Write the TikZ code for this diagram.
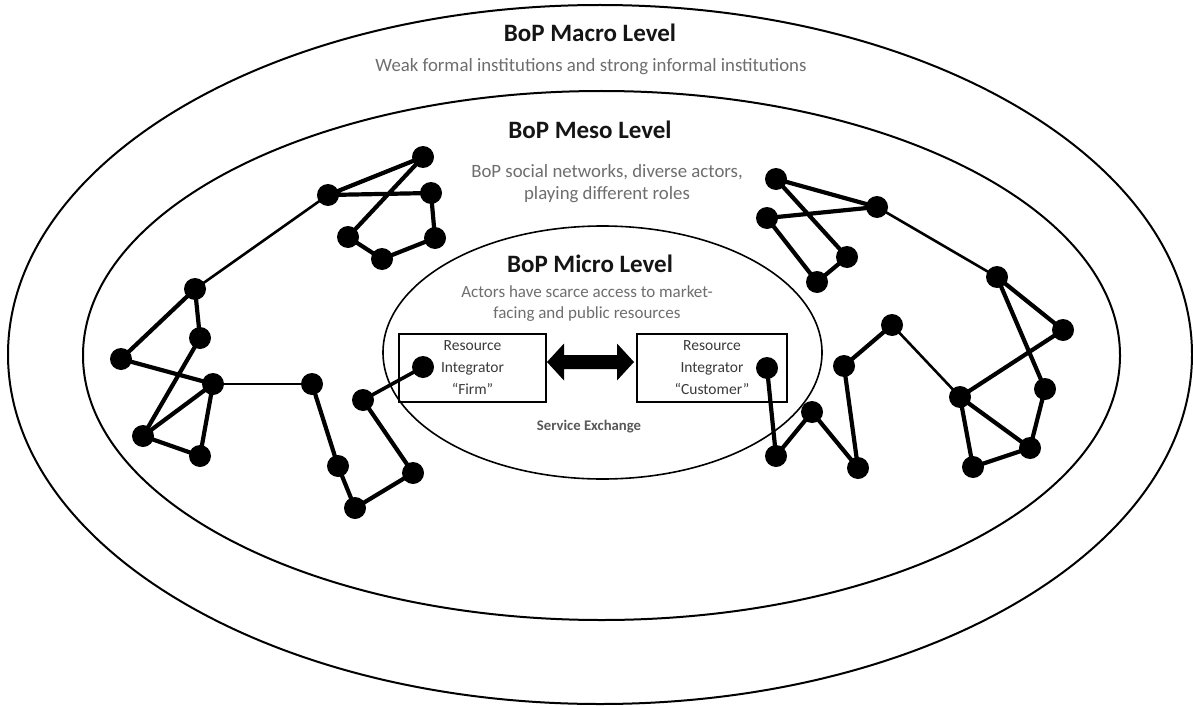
\documentclass[tikz,border=0pt]{standalone}
\usepackage{fontspec}
\setmainfont{Carlito}
\definecolor{titlec}{HTML}{151515}
\definecolor{descc}{HTML}{6E6E6E}
\definecolor{boxtc}{HTML}{3A3A3A}
\pgfdeclarelayer{ringlayer}
\pgfdeclarelayer{edgelayer}
\pgfsetlayers{ringlayer,edgelayer,main}
\begin{document}
\begin{tikzpicture}[x=1pt,y=-1pt,
  ring/.style={draw=black,line width=2pt},
  title/.style={text=titlec,font=\fontsize{25}{30}\selectfont\bfseries,inner sep=0},
  desc/.style={text=descc,font=\fontsize{18.8}{22}\selectfont,align=center,inner sep=0},
  ribox/.style={draw=black,line width=1.4pt,minimum width=147pt,minimum height=68pt,inner sep=0,align=center,text=boxtc,font=\fontsize{15.5}{22}\selectfont},
  dot/.style={circle,fill=black,minimum size=22pt,inner sep=0},
  tie/.style={line width=4.2pt},
  thin/.style={line width=2.6pt}]
\useasboundingbox (0,0) rectangle (1193,706);
\begin{pgfonlayer}{ringlayer}
\fill[white] (0,0) rectangle (1193,706);
% levels
\draw[ring] (600,354.5) ellipse [x radius=592pt, y radius=349.5pt];
\draw[ring] (601.5,355.5) ellipse [x radius=518.5pt, y radius=264.5pt];
\draw[ring,line width=1.6pt] (602.5,352.5) ellipse [x radius=219.5pt, y radius=126.5pt];
\end{pgfonlayer}
% texts
\node[title] (macroT) at (590,33) {BoP Macro Level};
\node[desc] (macroD) at (591,67) {Weak formal institutions and strong informal institutions};
\node[title] (mesoT) at (590,130) {BoP Meso Level};
\node[desc] (mesoD) at (607,184) {BoP social networks, diverse actors,\\playing different roles};
\node[title] (microT) at (590,264) {BoP Micro Level};
\node[desc,font=\fontsize{17}{21}\selectfont] (microD) at (587,303.5) {Actors have scarce access to market-\\facing and public resources};
\node[text=descc!80!black,font=\fontsize{14.7}{17}\selectfont\bfseries,inner sep=0] (service) at (589,427) {Service Exchange};
% boxes
\node[ribox] (firm) at (472.5,368) {Resource\\Integrator\\“Firm”};
\node[ribox,minimum width=150pt] (cust) at (712,368) {Resource\\Integrator\\“Customer”};
% double arrow
\coordinate (tl) at (547,362);
\coordinate (tr) at (634,362);
\fill[black] (tl) -- (564,343.5) -- (564,355) -- (617,355) -- (617,343.5) -- (tr)
  -- (617,380.5) -- (617,369) -- (564,369) -- (564,380.5) -- cycle;
% left network nodes
\node[dot] (A1) at (423,157) {};
\node[dot] (A2) at (328,195) {};
\node[dot] (A3) at (431,193) {};
\node[dot] (A4) at (348,237) {};
\node[dot] (A5) at (435,238) {};
\node[dot] (A6) at (382,259) {};
\node[dot] (B1) at (195,289) {};
\node[dot] (B2) at (200,338) {};
\node[dot] (B3) at (121,359) {};
\node[dot] (B4) at (213,384) {};
\node[dot] (B5) at (143,436) {};
\node[dot] (B6) at (200,456) {};
\node[dot] (C1) at (312,384) {};
\node[dot] (C2) at (338,466) {};
\node[dot] (C3) at (355,508) {};
\node[dot] (C4) at (413,473) {};
\node[dot] (C5) at (363,400) {};
\node[dot] (C6) at (423,367) {};
% right network nodes
\node[dot] (D1) at (776,179) {};
\node[dot] (D2) at (767,218) {};
\node[dot] (D3) at (877,207) {};
\node[dot] (D4) at (847,257) {};
\node[dot] (D5) at (817,282) {};
\node[dot] (E1) at (997,277) {};
\node[dot] (E2) at (1063,330) {};
\node[dot] (E3) at (960,397) {};
\node[dot] (E4) at (1045,389) {};
\node[dot] (E5) at (1030,448) {};
\node[dot] (E6) at (973,467) {};
\node[dot] (F1) at (892,325) {};
\node[dot] (F2) at (844,366) {};
\node[dot] (F3) at (858,468) {};
\node[dot] (F4) at (812,412) {};
\node[dot] (F5) at (776,456) {};
\node[dot] (F6) at (767,368) {};
\begin{pgfonlayer}{edgelayer}
% left edges
\draw[tie] (A1.center) -- (A2.center) -- (A3.center) -- (A5.center) -- (A6.center) -- (A4.center) -- (A1.center);
\draw[thin] (A2.center) -- (B1.center);
\draw[tie] (B1.center) -- (B2.center) -- (B5.center) -- (B6.center) -- (B4.center) -- (B3.center) -- (B1.center);
\draw[tie] (B4.center) -- (B5.center);
\draw[thin] (B4.center) -- (C1.center);
\draw[tie] (C1.center) -- (C2.center) -- (C3.center) -- (C4.center) -- (C5.center);
\draw[line width=3.6pt] (C5.center) -- (C6.center);
% right edges
\draw[tie] (D1.center) -- (D3.center) -- (D2.center) -- (D5.center) -- (D4.center) -- (D1.center);
\draw[thin] (D3.center) -- (E1.center);
\draw[tie] (E1.center) -- (E2.center) -- (E3.center) -- (E6.center) -- (E5.center) -- (E4.center) -- (E1.center);
\draw[tie] (E3.center) -- (E5.center);
\draw[thin] (E3.center) -- (F1.center);
\draw[tie] (F1.center) -- (F2.center) -- (F3.center) -- (F4.center) -- (F5.center) -- (F6.center);
\end{pgfonlayer}
\end{tikzpicture}
\end{document}
